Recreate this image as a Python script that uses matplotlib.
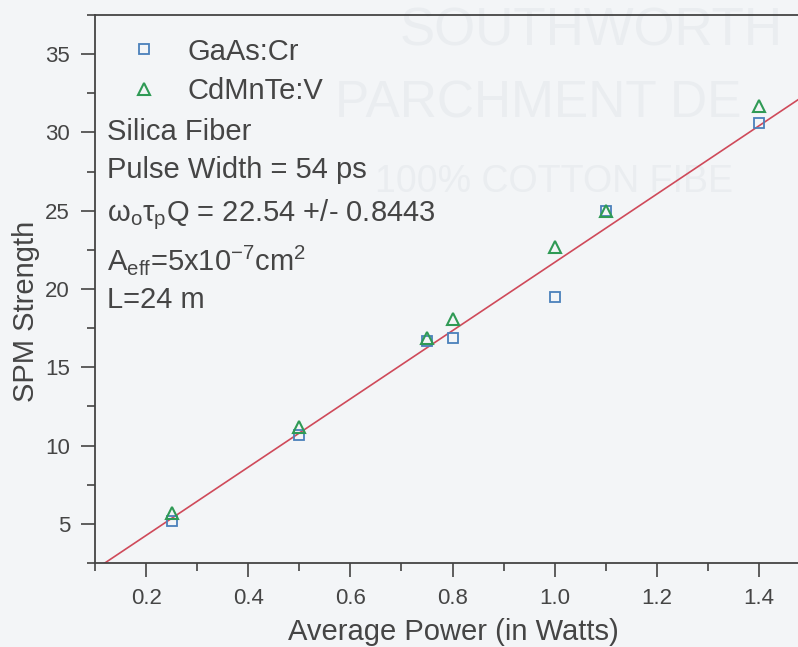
import numpy as np
import matplotlib
matplotlib.use("Agg")
import matplotlib.pyplot as plt
from matplotlib.ticker import MultipleLocator

plt.rcParams['font.family'] = ['Liberation Sans', 'DejaVu Sans']
plt.rcParams['mathtext.fontset'] = 'custom'
plt.rcParams['mathtext.rm'] = 'Liberation Sans'
plt.rcParams['mathtext.it'] = 'Liberation Sans:italic'

# data
power = [0.25, 0.5, 0.75, 0.8, 1.0, 1.1, 1.4]
gaas_cr = [5.2, 10.65, 16.65, 16.9, 19.5, 25.0, 30.6]
cdmnte_v = [5.7, 11.2, 16.85, 18.1, 22.7, 25.0, 31.7]
fit_slope = 21.8
fit_intercept = -0.1
fit_range = [0.115, 1.5]

info_lines = ["Silica Fiber",
              "Pulse Width = 54 ps",
              r"$\mathrm{\omega}_{\rm o}\mathrm{\tau}_{\rm p}$Q = 22.54 +/- 0.8443",
              r"A$_{\rm eff}$=5x10$^{-7}$cm$^{2}$",
              "L=24 m"]

W, H = 798, 647
bg = '#f3f5f7'
txt_col = '#454545'
fig = plt.figure(figsize=(W/100, H/100), dpi=100, facecolor=bg)
ax = fig.add_axes([95/W, (H-563)/H, (810-95)/W, (563-15)/H])
ax.patch.set_visible(False)

# faint paper watermark behind the plot
for txt, x, y, fs in [("SOUTHWORTH", 400, 46, 38), ("PARCHMENT DE", 335, 118, 37),
                      ("100% COTTON FIBE", 375, 192, 27)]:
    fig.text(x/W, 1-y/H, txt, fontsize=fs, color='#eaedf0', va='baseline', zorder=-5)

xf = np.array(fit_range)
ax.plot(xf, fit_slope*xf + fit_intercept, color='#cf4a5a', lw=1.2, zorder=2)
ax.plot(power, gaas_cr, ls='none', marker='s', ms=7, mfc='none', mec='#4a80bb',
        mew=1.3, label='GaAs:Cr', zorder=3)
ax.plot(power, cdmnte_v, ls='none', marker='^', ms=8.5, mfc='none', mec='#2f9a55',
        mew=1.5, label='CdMnTe:V', zorder=3)

ax.set_xlim(0.1, 1.5)
ax.set_ylim(2.5, 37.5)
ax.xaxis.set_minor_locator(MultipleLocator(0.1))
ax.yaxis.set_minor_locator(MultipleLocator(2.5))
ax.set_xticks([0.2, 0.4, 0.6, 0.8, 1.0, 1.2, 1.4])
ax.set_yticks([5, 10, 15, 20, 25, 30, 35])
ax.tick_params(which='major', direction='out', length=10, width=1.2, color='#444444',
               labelsize=16, labelcolor=txt_col, pad=8)
ax.tick_params(which='minor', direction='out', length=6, width=1.2, color='#444444')
for s in ax.spines.values():
    s.set_color('#444444')
    s.set_linewidth(1.3)

ax.set_xlabel('Average Power (in Watts)', fontsize=21, color=txt_col)
ax.xaxis.set_label_coords((453-95)/(810-95), -(640-563)/(563-15))
ax.xaxis.label.set_va('baseline')
ax.set_ylabel('SPM Strength', fontsize=21, color=txt_col)
ax.yaxis.set_label_coords(-(95-40)/(810-95), (563-311)/(563-15))

leg = ax.legend(loc='upper left', bbox_to_anchor=(0.032, 0.98), frameon=False,
                fontsize=21, handlelength=1.0, handletextpad=1.0, labelspacing=0.4,
                borderaxespad=0)
for t in leg.get_texts():
    t.set_color(txt_col)

ys = [140, 178, 221, 270, 308]
for line, y in zip(info_lines, ys):
    fig.text(107/W, 1-y/H, line, fontsize=21, color=txt_col, va='baseline')

fig.savefig('out.png', dpi=100, facecolor=bg)
